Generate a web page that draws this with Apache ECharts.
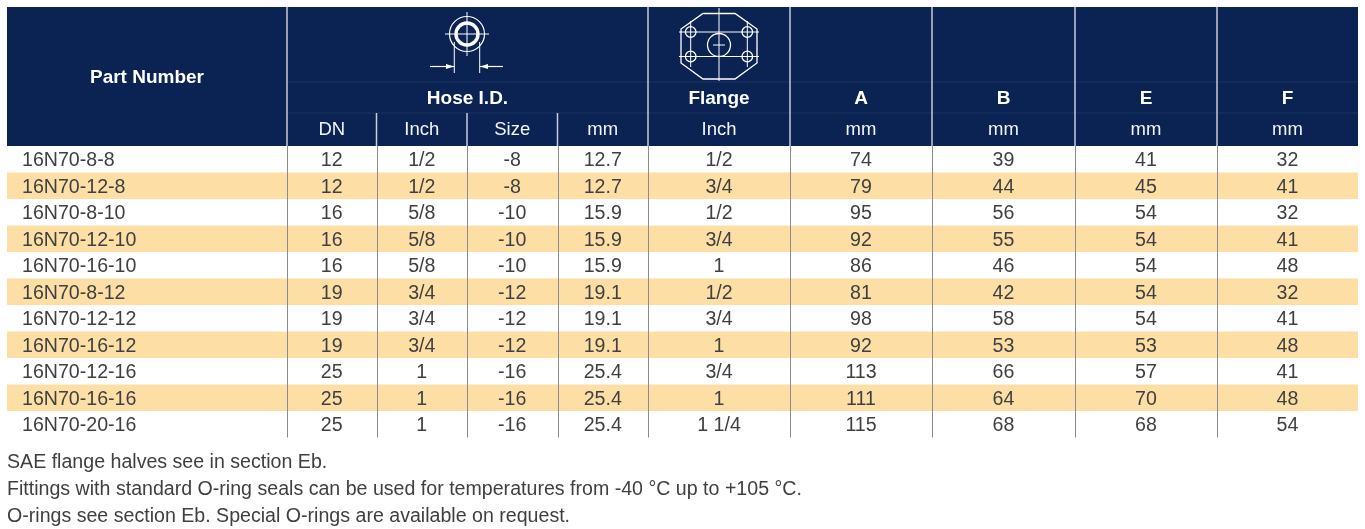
<!DOCTYPE html>
<html><head><meta charset="utf-8">
<script src="https://cdn.jsdelivr.net/npm/echarts@6/dist/echarts.min.js"></script>
<style>html,body{margin:0;padding:0;background:#fff}#c{width:1365px;height:529px}</style>
</head><body><div id="c"></div>
<script>
// ---------- data ----------
const partNumbers = ['16N70-8-8','16N70-12-8','16N70-8-10','16N70-12-10','16N70-16-10','16N70-8-12','16N70-12-12','16N70-16-12','16N70-12-16','16N70-16-16','16N70-20-16'];
const hoseDN = [12,12,16,16,16,19,19,19,25,25,25];
const hoseInch = ['1/2','1/2','5/8','5/8','5/8','3/4','3/4','3/4','1','1','1'];
const hoseSize = ['-8','-8','-10','-10','-10','-12','-12','-12','-16','-16','-16'];
const hoseMM = ['12.7','12.7','15.9','15.9','15.9','19.1','19.1','19.1','25.4','25.4','25.4'];
const flangeInch = ['1/2','3/4','1/2','3/4','1','1/2','3/4','1','3/4','1','1 1/4'];
const dimA = [74,79,95,92,86,81,98,92,113,111,115];
const dimB = [39,44,56,55,46,42,58,53,66,64,68];
const dimE = [41,45,54,54,54,54,54,53,57,70,68];
const dimF = [32,41,32,41,48,32,41,48,41,48,54];
const headerMain = ['Part Number','Hose I.D.','Flange','A','B','E','F'];
const headerSub = ['DN','Inch','Size','mm','Inch','mm','mm','mm','mm'];
const footnotes = [
  'SAE flange halves see in section Eb.',
  'Fittings with standard O-ring seals can be used for temperatures from -40 °C up to +105 °C.',
  'O-rings see section Eb. Special O-rings are available on request.'
];

// ---------- layout ----------
const FONT = '"Liberation Sans", Arial, Helvetica, sans-serif';
const NAVY = '#0a2352';
const STRIPE = '#fddfa6';
const TXT = '#404040';
const L = 7, HT = 7, T = 146, GW = 1351, GH = 291.5;
const edges = [0,280,369.5,460,550.5,641,783,925,1068,1210,1351];
const columns = [partNumbers, hoseDN, hoseInch, hoseSize, hoseMM, flangeInch, dimA, dimB, dimE, dimF];

const cellData = [];
columns.forEach((col, ci) => col.forEach((v, ri) => cellData.push([ci, ri, String(v)])));
const stripeData = partNumbers.map((p, i) => [0, i]);
const lineData = edges.slice(1, -1).map(e => [e, 0]);

const ax = i => L + edges[i];
const cx = i => L + (edges[i] + edges[i + 1]) / 2;

// ---------- header graphics ----------
const W = '#ffffff';
const DIV = '#c9cdd5';
const FAINT = 'rgba(255,255,255,0.08)';
const g = [];
g.push({type:'rect', shape:{x:L, y:HT, width:GW, height:T-HT}, style:{fill:NAVY}, z:1});
[82, 113].forEach(y => g.push({type:'line', shape:{x1:ax(1), y1:y, x2:L+GW, y2:y}, style:{stroke:FAINT, lineWidth:1}, z:2}));
[1,5,6,7,8,9].forEach(i => g.push({type:'line', shape:{x1:ax(i), y1:HT, x2:ax(i), y2:T}, style:{stroke:DIV, lineWidth:1.5}, z:3}));
[2,3,4].forEach(i => g.push({type:'line', shape:{x1:ax(i), y1:113, x2:ax(i), y2:T}, style:{stroke:DIV, lineWidth:1.5}, z:3}));
const mainX = [cx(0), (ax(1)+ax(5))/2, cx(5), cx(6), cx(7), cx(8), cx(9)];
headerMain.forEach((t, i) => g.push({type:'text', x:mainX[i], y:(i===0?78:98.5), z:4,
  style:{text:t, fill:W, font:'bold 19px ' + FONT, align:'center', verticalAlign:'middle', textAlign:'center', textVerticalAlign:'middle'}}));
headerSub.forEach((t, i) => g.push({type:'text', x:cx(i+1), y:130, z:4,
  style:{text:t, fill:'#f2f4f8', font:'18.5px ' + FONT, align:'center', verticalAlign:'middle', textAlign:'center', textVerticalAlign:'middle'}}));

// hose icon
(function(){
  const x0 = (ax(1)+ax(5))/2 - 0.5, y0 = 34;
  g.push({type:'circle', shape:{cx:x0, cy:y0, r:17.5}, style:{stroke:W, fill:null, lineWidth:1.2}, z:5});
  g.push({type:'circle', shape:{cx:x0, cy:y0, r:11}, style:{stroke:W, fill:null, lineWidth:3.4}, z:5});
  g.push({type:'line', shape:{x1:x0-22, y1:y0, x2:x0+22, y2:y0}, style:{stroke:W, lineWidth:1}, z:5});
  g.push({type:'line', shape:{x1:x0, y1:y0-22, x2:x0, y2:y0+22}, style:{stroke:W, lineWidth:1}, z:5});
  [-12.7, 12.7].forEach(d => g.push({type:'line', shape:{x1:x0+d, y1:y0+8, x2:x0+d, y2:73}, style:{stroke:W, lineWidth:1}, z:5}));
  const ay = 66.5;
  g.push({type:'line', shape:{x1:x0-37, y1:ay, x2:x0-13, y2:ay}, style:{stroke:W, lineWidth:1.2}, z:5});
  g.push({type:'line', shape:{x1:x0+13, y1:ay, x2:x0+36, y2:ay}, style:{stroke:W, lineWidth:1.2}, z:5});
  g.push({type:'polygon', shape:{points:[[x0-13,ay],[x0-21,ay-2.6],[x0-21,ay+2.6]]}, style:{fill:W}, z:5});
  g.push({type:'polygon', shape:{points:[[x0+13,ay],[x0+21,ay-2.6],[x0+21,ay+2.6]]}, style:{fill:W}, z:5});
})();

// flange icon
(function(){
  const x0 = cx(5), yc = 45;
  const s = {stroke:W, fill:null, lineWidth:1.3};
  g.push({type:'polygon', shape:{points:[[x0-16,13.5],[x0+16,13.5],[x0+38,29],[x0+38,63],[x0+16,79],[x0-16,79],[x0-38,63],[x0-38,29]]}, style:Object.assign({}, s), z:5});
  g.push({type:'circle', shape:{cx:x0, cy:yc, r:11.5}, style:Object.assign({}, s), z:5});
  g.push({type:'line', shape:{x1:x0, y1:8, x2:x0, y2:81}, style:{stroke:W, lineWidth:1}, z:5});
  g.push({type:'line', shape:{x1:x0-6, y1:yc, x2:x0+6, y2:yc}, style:{stroke:W, lineWidth:1}, z:5});
  const hx = [x0-28.3, x0+28.3], hy = [32, 56.5];
  hy.forEach(y => g.push({type:'line', shape:{x1:x0-40, y1:y, x2:x0+40, y2:y}, style:{stroke:W, lineWidth:1}, z:5}));
  hx.forEach(x => g.push({type:'line', shape:{x1:x, y1:21, x2:x, y2:67}, style:{stroke:W, lineWidth:1}, z:5}));
  hx.forEach(x => hy.forEach(y => g.push({type:'circle', shape:{cx:x, cy:y, r:5.3}, style:{stroke:W, fill:NAVY, lineWidth:1.3}, z:6})));
  hx.forEach(x => hy.forEach(y => {
    g.push({type:'line', shape:{x1:x-5.3, y1:y, x2:x+5.3, y2:y}, style:{stroke:W, lineWidth:1}, z:7});
    g.push({type:'line', shape:{x1:x, y1:y-5.3, x2:x, y2:y+5.3}, style:{stroke:W, lineWidth:1}, z:7});
  }));
})();

// footnotes
const footY = [463, 490, 516.5];
footnotes.forEach((t, i) => g.push({type:'text', x:L, y:footY[i], z:4,
  style:{text:t, fill:TXT, font:'19.6px ' + FONT, align:'left', verticalAlign:'middle', textAlign:'left', textVerticalAlign:'middle'}}));

// ---------- chart ----------
const chart = echarts.init(document.getElementById('c'), null, {renderer:'canvas'});
chart.setOption({
  animation:false,
  backgroundColor:'#ffffff',
  grid:{left:L, top:T, width:GW, height:GH, containLabel:false},
  xAxis:{type:'value', min:0, max:GW, show:false},
  yAxis:{type:'category', data:partNumbers, inverse:true, show:false},
  graphic:{elements:g},
  series:[
    {type:'custom', z:1, silent:true, data:stripeData, encode:{x:0, y:1},
      renderItem:(params, api) => {
        const ri = api.value(1);
        const p0 = api.coord([0, ri]), p1 = api.coord([GW, ri]);
        const h = api.size([0, 1])[1];
        return {type:'rect', shape:{x:p0[0], y:p0[1]-h/2, width:p1[0]-p0[0], height:h},
          style:{fill: ri % 2 ? STRIPE : '#ffffff'}};
      }},
    {type:'custom', z:2, silent:true, data:lineData, encode:{x:0, y:1},
      renderItem:(params, api) => {
        const x = Math.round(api.coord([api.value(0), 0])[0]) + 0.5;
        const cs = params.coordSys;
        return {type:'line', shape:{x1:x, y1:cs.y, x2:x, y2:cs.y+cs.height},
          style:{stroke:'#8c8c8c', lineWidth:1}};
      }},
    {type:'custom', z:3, silent:true, data:cellData.map(d => [d[0], d[1]]), encode:{x:0, y:1},
      renderItem:(params, api) => {
        const ci = api.value(0), ri = api.value(1);
        const text = cellData[params.dataIndex][2];
        const left = ci === 0;
        const xv = left ? edges[0] + 15 : (edges[ci] + edges[ci+1]) / 2;
        const p = api.coord([xv, ri]);
        return {type:'text', style:{text:text, x:p[0], y:p[1]+1.5, fill:TXT, fontSize:19.6, fontFamily:FONT,
          align:left ? 'left' : 'center', verticalAlign:'middle', textAlign:left ? 'left' : 'center', textVerticalAlign:'middle'}};
      }}
  ]
});
</script></body></html>
